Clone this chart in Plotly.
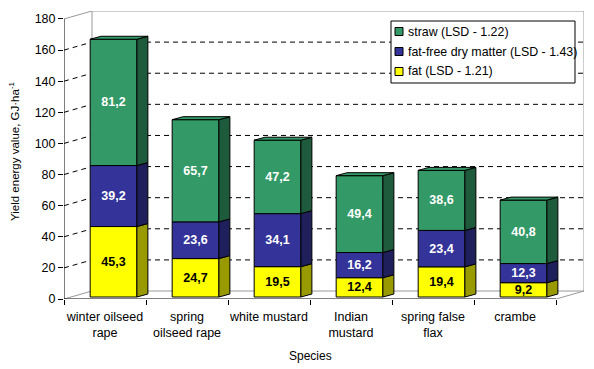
import plotly.graph_objects as go

# ---- data ----
species = ["winter oilseed<br>rape", "spring<br>oilseed rape", "white mustard",
           "Indian<br>mustard", "spring false<br>flax", "crambe"]
fat = [45.3, 24.7, 19.5, 12.4, 19.4, 9.2]
fat_free = [39.2, 23.6, 34.1, 16.2, 23.4, 12.3]
straw = [81.2, 65.7, 47.2, 49.4, 38.6, 40.8]
series_names = ["fat (LSD - 1.21)", "fat-free dry matter (LSD - 1.43)", "straw (LSD - 1.22)"]
y_ticks = list(range(0, 181, 20))

# ---- style ----
FONT = "Arial, Liberation Sans, sans-serif"
front_colors = ["#FFFF00", "#333399", "#339966"]
side_colors = ["#999900", "#1F1F5C", "#1E5A3C"]
text_colors = ["black", "white", "white"]

n = len(species)
YMAX = 180
DX, DY = 0.3415, 5.13          # depth of the 3D box (data units)
OFFX, BASE = 0.104, 1.28       # bar placement inside the box
BW = 0.57                      # bar width
BDX, BDY = 0.134, 1.92         # bar depth

xs = [i + OFFX for i in range(n)]
series = [fat, fat_free, straw]

fig = go.Figure()
bases = [BASE] * n
seg_bounds = []
for k, vals in enumerate(series):
    fig.add_trace(go.Bar(
        x=xs, y=vals, base=bases[:], width=BW, name=series_names[k],
        marker=dict(color=front_colors[k], line=dict(color="black", width=1)),
        text=[f"{v:.1f}".replace(".", ",") for v in vals],
        textposition="inside", insidetextanchor="middle",
        textfont=dict(family=FONT, size=12.5, color=text_colors[k], weight="bold"),
        cliponaxis=False, showlegend=False,
    ))
    seg_bounds.append([(bases[i], bases[i] + vals[i]) for i in range(n)])
    bases = [bases[i] + vals[i] for i in range(n)]

shapes = []
annotations = []
gray = "#999999"
DASH = "5px,4px"
x0, x1 = -0.5, n - 0.5
for v in y_ticks[1:-1]:
    shapes.append(dict(type="line", xref="x", yref="y", x0=x0, y0=v, x1=x0 + DX, y1=v + DY,
                       line=dict(color="black", width=1, dash=DASH), layer="below"))
    shapes.append(dict(type="line", xref="x", yref="y", x0=x0 + DX, y0=v + DY, x1=x1 + DX, y1=v + DY,
                       line=dict(color="black", width=1, dash=DASH), layer="below"))
box_lines = [
    (x0, 0, x0 + DX, DY), (x0 + DX, DY, x1 + DX, DY), (x1, 0, x1 + DX, DY),
    (x1 + DX, DY, x1 + DX, YMAX + DY), (x0 + DX, YMAX + DY, x1 + DX, YMAX + DY),
    (x0, YMAX, x0 + DX, YMAX + DY), (x0 + DX, DY, x0 + DX, YMAX + DY),
]
for a, b, c, d in box_lines:
    shapes.append(dict(type="line", xref="x", yref="y", x0=a, y0=b, x1=c, y1=d,
                       line=dict(color=gray, width=1), layer="below"))
# front axes
shapes.append(dict(type="line", xref="x", yref="y", x0=x0, y0=0, x1=x0, y1=YMAX,
                   line=dict(color="black", width=1)))
shapes.append(dict(type="line", xref="x", yref="y", x0=x0, y0=0, x1=x1, y1=0,
                   line=dict(color="black", width=1)))

# bar side & top faces
for k in range(len(series)):
    for i in range(n):
        lo, hi = seg_bounds[k][i]
        xr = xs[i] + BW / 2
        path = (f"M {xr},{lo} L {xr + BDX},{lo + BDY} L {xr + BDX},{hi + BDY} "
                f"L {xr},{hi} Z")
        shapes.append(dict(type="path", xref="x", yref="y", path=path,
                           fillcolor=side_colors[k], line=dict(color="black", width=1)))
for i in range(n):
    top = seg_bounds[-1][i][1]
    xl, xr = xs[i] - BW / 2, xs[i] + BW / 2
    path = (f"M {xl},{top} L {xr},{top} L {xr + BDX},{top + BDY} "
            f"L {xl + BDX},{top + BDY} Z")
    shapes.append(dict(type="path", xref="x", yref="y", path=path,
                       fillcolor=front_colors[-1], line=dict(color="black", width=1)))

# ---- legend box (drawn in paper coords, positions in window pixels) ----
def PX(p):
    return (p - 64) / 520.0

def PY(p):
    return (299 - p) / 288.0

shapes.append(dict(type="rect", xref="paper", yref="paper", x0=PX(391), x1=PX(575),
                   y0=PY(83), y1=PY(21), fillcolor="white", line=dict(color="black", width=1)))
for j, k in enumerate([2, 1, 0]):
    cy = 31.5 + 20 * j
    shapes.append(dict(type="rect", xref="paper", yref="paper", x0=PX(395), x1=PX(403),
                       y0=PY(cy + 4), y1=PY(cy - 4), fillcolor=front_colors[k],
                       line=dict(color="black", width=1)))
    annotations.append(dict(text=series_names[k], xref="paper", yref="paper",
                            x=PX(406), y=PY(cy), xanchor="left", yanchor="middle",
                            showarrow=False, font=dict(family=FONT, size=12.4)))

annotations.append(dict(text="Species", xref="x", yref="paper", x=(n - 1) / 2, y=0,
                        yshift=-66, showarrow=False, font=dict(family=FONT, size=12)))
annotations.append(dict(text="Yield energy value, GJ·ha<sup>-1</sup>", xref="paper",
                        yref="paper", x=PX(14), y=PY(151), textangle=-90,
                        xanchor="center", yanchor="middle", showarrow=False,
                        font=dict(family=FONT, size=11.5)))

# page body has an 8px margin: figure is shrunk so the plot lands where the reference has it
fig.update_layout(
    width=586, height=361,
    margin=dict(l=56, r=10, t=3, b=70, autoexpand=False),
    paper_bgcolor="white", plot_bgcolor="white",
    barmode="overlay",
    showlegend=False,
    font=dict(family=FONT, size=12, color="black"),
    uniformtext=dict(minsize=12, mode="show"),
    shapes=shapes,
    annotations=annotations,
    xaxis=dict(range=[x0, x1 + DX], tickvals=list(range(n)), ticktext=species,
               ticks="outside", ticklen=6, tickcolor="rgba(0,0,0,0)", automargin=False,
               showgrid=False, zeroline=False, showline=False,
               minor=dict(tickvals=[i - 0.5 for i in range(n + 1)], ticks="outside",
                          ticklen=5, tickcolor="black", showgrid=False),
               tickfont=dict(family=FONT, size=12.5)),
    yaxis=dict(range=[0, YMAX + DY], tickvals=y_ticks, ticks="outside", ticklen=5,
               tickcolor="black", showgrid=False, zeroline=False, showline=False,
               automargin=False,
               tickfont=dict(family=FONT, size=12.5)),
)

fig.write_html("out.html")
